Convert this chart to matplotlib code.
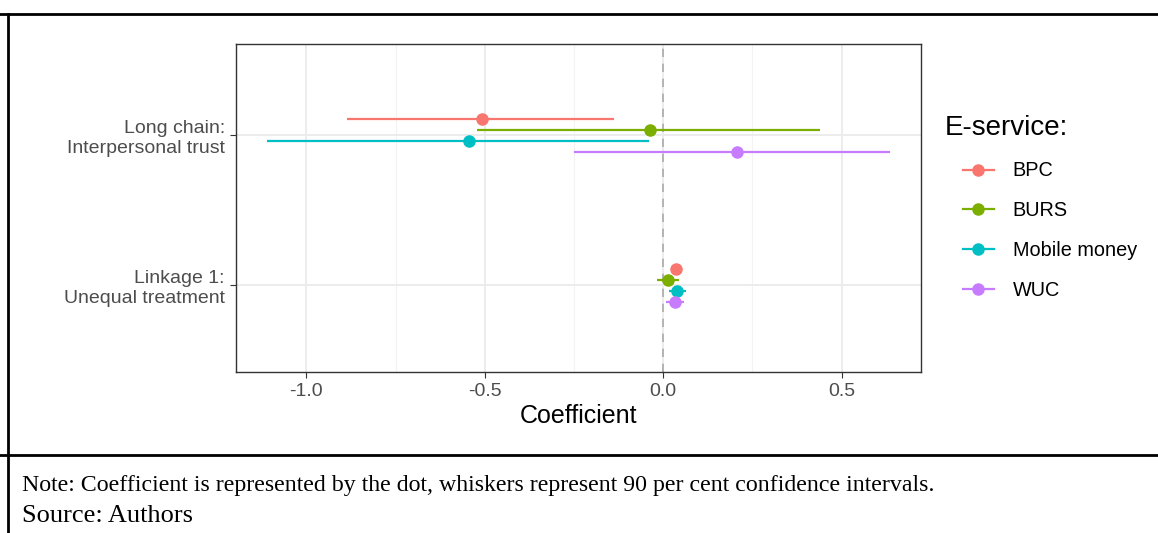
import matplotlib.pyplot as plt
from matplotlib.lines import Line2D

plt.rcParams['font.family'] = ['Liberation Sans', 'DejaVu Sans']

hypotheses = ["Linkage 1:\nUnequal treatment", "Long chain:\nInterpersonal trust"]
services = ["BPC", "BURS", "Mobile money", "WUC"]
colors = ["#F8766D", "#7CAE00", "#00BFC4", "#C77CFF"]

# coefficient, lower, upper (90% CI) for each service, by hypothesis
coef_linkage = [0.036, 0.013, 0.038, 0.034]
lo_linkage = [0.027, -0.018, 0.017, 0.008]
hi_linkage = [0.045, 0.043, 0.064, 0.059]

coef_long = [-0.508, -0.036, -0.545, 0.207]
lo_long = [-0.885, -0.522, -1.109, -0.251]
hi_long = [-0.137, 0.439, -0.039, 0.634]

coefs = [coef_linkage, coef_long]
los = [lo_linkage, lo_long]
his = [hi_linkage, hi_long]

dodge = [0.105, 0.032, -0.042, -0.115]

fig = plt.figure(figsize=(11.58, 5.33), dpi=100)
ax = fig.add_axes([0.2038, 0.3021, 0.5915, 0.6153])

ax.axvline(0, color='#aaaaaa', linestyle=(0, (5, 4)), linewidth=1.2, zorder=1)
for i in range(len(hypotheses)):
    for j in range(len(services)):
        y = i + dodge[j]
        ax.hlines(y, los[i][j], his[i][j], color=colors[j], linewidth=1.6, zorder=3)
        ax.plot(coefs[i][j], y, 'o', color=colors[j], markersize=8, zorder=4)

ax.set_xlim(-1.197, 0.722)
ax.set_ylim(-0.58, 1.607)
ax.set_xticks([-1.0, -0.5, 0.0, 0.5])
ax.set_xticklabels(["-1.0", "-0.5", "0.0", "0.5"])
ax.set_xticks([-0.75, -0.25, 0.25], minor=True)
ax.set_yticks([0, 1])
ax.set_yticklabels(hypotheses)
ax.grid(True, which='major', color='#ebebeb', linewidth=1.3, zorder=0)
ax.grid(True, which='minor', axis='x', color='#f3f3f3', linewidth=0.8, zorder=0)
ax.set_axisbelow(True)
for s in ax.spines.values():
    s.set_color('#333333')
    s.set_linewidth(1.0)
ax.tick_params(axis='both', which='major', length=4, color='#333333', labelsize=14, labelcolor='#4d4d4d', pad=4)
ax.tick_params(axis='x', which='minor', length=0)
ax.set_xlabel("Coefficient", fontsize=18, labelpad=3)

handles = [Line2D([0], [0], color=c, marker='o', markersize=8, linewidth=1.6) for c in colors]
fig.legend(handles, services, loc='upper left',
           bbox_to_anchor=(0.8315, 0.697), frameon=False, fontsize=14.3,
           labelspacing=1.05, handlelength=1.55, handletextpad=0.95,
           borderpad=0, borderaxespad=0)
fig.text(0.816, 0.76, "E-service:", fontsize=20, va='center')

# surrounding box of the figure page
fig.add_artist(Line2D([0, 1], [0.9737, 0.9737], color='black', linewidth=2, transform=fig.transFigure))
fig.add_artist(Line2D([0, 1], [0.1463, 0.1463], color='black', linewidth=2, transform=fig.transFigure))
fig.add_artist(Line2D([0.007, 0.007], [0, 0.9737], color='black', linewidth=2, transform=fig.transFigure))

fig.text(0.019, 0.09, "Note: Coefficient is represented by the dot, whiskers represent 90 per cent confidence intervals.",
         family='Liberation Serif', fontsize=17.2, va='center')
fig.text(0.019, 0.031, "Source: Authors", family='Liberation Serif', fontsize=19, va='center')

fig.savefig("out.png", dpi=100)
